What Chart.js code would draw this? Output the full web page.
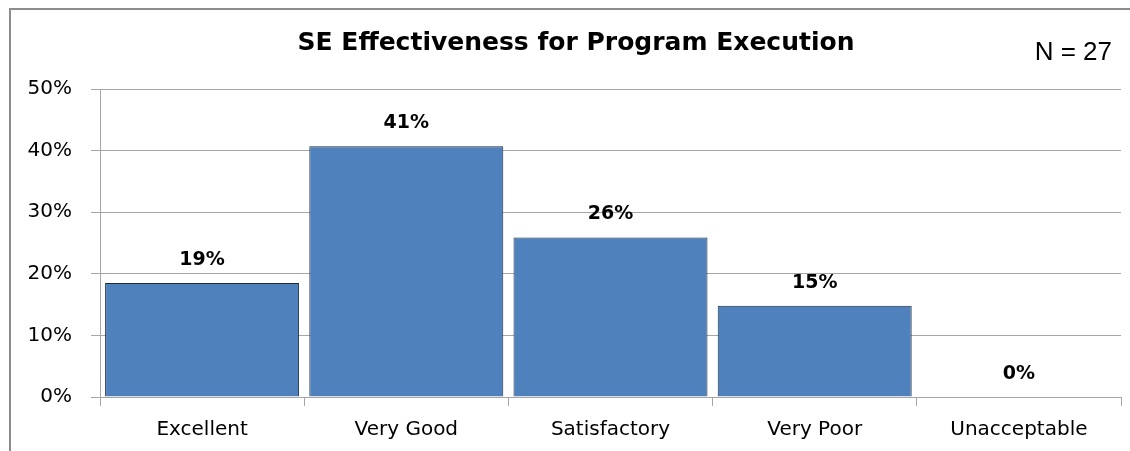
<!DOCTYPE html>
<html>
<head>
  <title>SE Effectiveness for Program Execution</title>
  <script src="https://cdn.jsdelivr.net/npm/chart.js"></script>
  <style>
    body {
      margin: 0;
      background: #ffffff;
    }
    #wrap {
      position: relative;
      width: 1130px;
      height: 451px;
      overflow: hidden;
    }
    #frame {
      position: absolute;
      left: 9px;
      top: 8px;
      width: 1200px;
      height: 500px;
      border-left: 2px solid #8c8c8c;
      border-top: 2px solid #8c8c8c;
    }
  </style>
</head>
<body>
  <div id="wrap">
    <div id="frame"></div>
    <canvas id="seChart" width="1130" height="451"></canvas>
  </div>

  <script>
    const categories = ['Excellent', 'Very Good', 'Satisfactory', 'Very Poor', 'Unacceptable'];
    const percentValues = [18.5, 40.7, 25.9, 14.8, 0];
    const yTicks = [0, 10, 20, 30, 40, 50];
    const chartTitle = 'SE Effectiveness for Program Execution';
    const sampleNote = 'N = 27';

    const wideSans = '"DejaVu Sans", Verdana, sans-serif';

    // title, value labels above each bar, and the N note in the corner
    const extrasPlugin = {
      id: 'extras',
      afterDatasetsDraw(chart) {
        const ctx = chart.ctx;
        const meta = chart.getDatasetMeta(0);
        ctx.save();
        ctx.fillStyle = '#000';
        ctx.textBaseline = 'middle';

        ctx.font = 'bold 25px ' + wideSans;
        ctx.textAlign = 'center';
        ctx.fillText(chartTitle, 576, 43);

        ctx.font = 'bold 19px ' + wideSans;
        meta.data.forEach((bar, i) => {
          ctx.fillText(Math.round(percentValues[i]) + '%', bar.x, bar.y - 23);
        });

        ctx.font = '26px "Liberation Sans", Arial, sans-serif';
        ctx.textAlign = 'right';
        ctx.fillText(sampleNote, chart.width - 18, 53);
        ctx.restore();
      }
    };

    const ctx = document.getElementById('seChart').getContext('2d');
    new Chart(ctx, {
      type: 'bar',
      data: {
        labels: categories,
        datasets: [{
          data: percentValues,
          backgroundColor: '#4f81bd',
          borderColor: '#1e2a38',
          borderWidth: 1,
          barPercentage: 0.95,
          categoryPercentage: 1.0
        }]
      },
      options: {
        responsive: false,
        animation: false,
        layout: {
          padding: { left: 0, right: 9, top: 89, bottom: 0 }
        },
        plugins: {
          legend: { display: false },
          tooltip: { enabled: false },
          title: { display: false }
        },
        scales: {
          x: {
            grid: {
              offset: true,
              drawOnChartArea: false,
              color: '#a6a6a6',
              tickLength: 9
            },
            border: { color: '#a6a6a6' },
            ticks: {
              color: '#000',
              padding: 12,
              font: { family: wideSans, size: 20 }
            },
            afterFit(scale) { scale.height = 54; }
          },
          y: {
            min: 0,
            max: 50,
            afterBuildTicks(scale) {
              scale.ticks = yTicks.map(v => ({ value: v }));
            },
            grid: {
              color: '#a6a6a6',
              tickLength: 9
            },
            border: { color: '#a6a6a6' },
            ticks: {
              color: '#000',
              padding: 19,
              font: { family: wideSans, size: 20 },
              callback: v => v + '%'
            },
            afterFit(scale) { scale.width = 100; }
          }
        }
      },
      plugins: [extrasPlugin]
    });
  </script>
</body>
</html>
